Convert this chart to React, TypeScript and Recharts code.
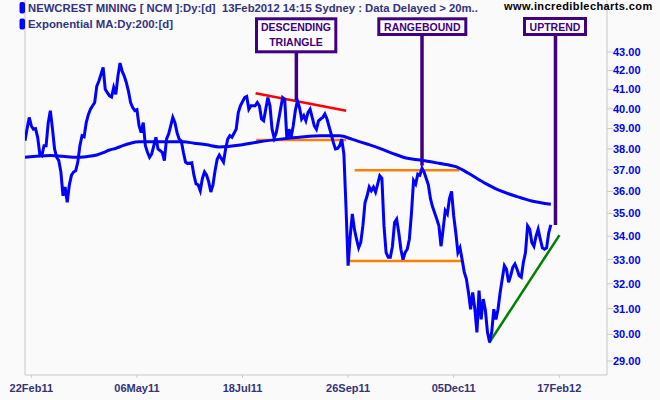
import React from 'react';
import { LineChart, Line, XAxis, YAxis, ReferenceLine } from 'recharts';

// [trading day, close]
const closes: [number, number][] = [
  [0, 38.4], [1, 39.0], [2, 39.56], [3, 39.13], [4, 38.97], [5, 39.0], [6, 38.57], [7, 37.76], [8, 37.68], [9, 38.16],
  [10, 38.16], [11, 39.3], [12, 39.9], [13, 39.0], [14, 38.0], [15, 37.6], [16, 37.44], [17, 36.9], [18, 35.8], [19, 36.2],
  [20, 35.5], [21, 36.3], [22, 36.75], [23, 36.9], [24, 36.96], [25, 37.37], [26, 38.16], [27, 38.65], [28, 38.6], [29, 39.3],
  [30, 39.7], [31, 39.98], [32, 40.15], [33, 40.32], [34, 41.17], [35, 41.44], [36, 41.8], [37, 42.16], [38, 41.0], [39, 40.83],
  [40, 40.66], [41, 40.6], [42, 41.1], [43, 40.74], [44, 41.7], [45, 42.4], [46, 41.96], [47, 41.7], [48, 41.35], [49, 40.9],
  [50, 40.32], [51, 40.06], [52, 39.9], [53, 39.95], [54, 39.15], [55, 38.8], [56, 39.3], [57, 38.16], [58, 37.84], [59, 37.6],
  [60, 37.76], [61, 38.16], [62, 38.57], [63, 38.0], [65, 37.84], [66, 37.44], [67, 38.48], [68, 38.73], [69, 39.13],
  [70, 39.56], [71, 39.3], [72, 38.8], [73, 38.48], [74, 38.4], [75, 37.84], [76, 37.37], [77, 37.3], [79, 37.34],
  [80, 36.75], [81, 36.34], [82, 36.3], [83, 36.03], [84, 36.6], [85, 36.9], [86, 36.75], [87, 36.44], [88, 35.97], [89, 36.3],
  [90, 36.96], [91, 37.5], [92, 37.7], [94, 37.37], [95, 38.0], [96, 38.48], [97, 38.65], [98, 38.57],
  [100, 38.97], [101, 39.8], [102, 40.15], [104, 40.57], [105, 40.63], [106, 39.97], [107, 40.15], [109, 40.15],
  [110, 40.32], [111, 40.15], [112, 39.48], [113, 39.39], [114, 39.97], [115, 40.57], [116, 40.15], [117, 38.97], [118, 38.53], [119, 38.8],
  [121, 39.97], [122, 40.57], [123, 40.48], [124, 38.48], [125, 38.97], [126, 38.57], [127, 39.13], [128, 39.9], [129, 40.4],
  [130, 40.06], [131, 39.48], [132, 39.65], [133, 39.39], [134, 39.8], [135, 39.97], [136, 39.56], [137, 39.13], [138, 38.97], [139, 39.39],
  [140, 39.48], [141, 39.56], [142, 39.73], [143, 39.48], [145, 38.73], [146, 38.32], [147, 38.0], [148, 38.03], [149, 38.16],
  [150, 38.48], [151, 37.76], [152, 35.3], [153, 32.75], [154, 34.0], [155, 34.98], [156, 34.3], [157, 33.87], [158, 33.5], [159, 33.73],
  [160, 34.45], [161, 35.48], [162, 35.8], [163, 36.2], [164, 36.03], [165, 36.2], [166, 35.97], [167, 36.34], [168, 36.72], [169, 36.6],
  [170, 34.45], [171, 33.3], [172, 33.1], [173, 33.1], [174, 33.57], [175, 34.6], [176, 34.75], [177, 34.15], [178, 33.44], [179, 33.0],
  [180, 33.3], [181, 33.44], [182, 33.87], [183, 35.0], [184, 36.5], [185, 36.34], [186, 36.8], [187, 36.75], [188, 37.08], [189, 36.9],
  [190, 36.6], [191, 36.3], [192, 35.67], [193, 35.3], [195, 34.75], [196, 34.45], [197, 33.57], [198, 34.3], [199, 35.13],
  [200, 34.98], [201, 35.67], [202, 36.0], [203, 34.9], [204, 34.15], [205, 33.3], [206, 33.5], [207, 33.0], [208, 32.48], [209, 32.2],
  [210, 31.65], [211, 30.98], [212, 31.65], [213, 31.0], [214, 30.08], [215, 31.72], [216, 30.58], [217, 31.38], [218, 30.95], [219, 30.08],
  [220, 29.7], [221, 30.08], [222, 30.98], [223, 30.58], [224, 30.98], [225, 31.65], [226, 32.2], [227, 32.75], [228, 32.6], [229, 32.06],
  [230, 32.34], [231, 32.68], [232, 32.82], [233, 32.6], [234, 32.34], [235, 32.27], [236, 32.88], [237, 33.3], [238, 34.45], [239, 34.3],
  [240, 33.73], [241, 33.57], [242, 34.0], [243, 34.3], [244, 33.87], [245, 33.5], [246, 33.44], [247, 33.5], [248, 34.15], [249, 34.5],
];

// 200 day exponential MA, [trading day, value]
const ema200: [number, number][] = [
  [0, 37.6], [12, 37.69], [20, 37.63], [24, 37.6], [29, 37.63], [34, 37.71], [37, 37.82], [40, 37.95], [43, 38.03], [46, 38.15],
  [50, 38.28], [54, 38.35], [75, 38.35], [80, 38.28], [86, 38.2], [92, 38.1], [102, 38.19], [111, 38.35], [121, 38.48], [130, 38.57],
  [140, 38.64], [149, 38.64], [155, 38.47], [162, 38.24], [168, 38.03], [174, 37.79], [181, 37.55], [187, 37.47], [196, 37.31],
  [204, 37.15], [210, 36.84], [218, 36.37], [225, 36.03], [233, 35.76], [240, 35.56], [249, 35.41],
];

const dateTicks = [3, 53, 103, 153, 203, 253];
const dateLabels = ['22Feb11', '06May11', '18Jul11', '26Sep11', '05Dec11', '17Feb12'];
const priceTicks = [29, 30, 31, 32, 33, 34, 35, 36, 37, 38, 39, 40, 41, 42, 43];

// drawn trend lines: [day, price] -> [day, price]
const trendLines = [
  { color: '#ff0000', from: [109.2, 40.8], to: [152.1, 39.9] },
  { color: '#ff8000', from: [109.5, 38.44], to: [152.1, 38.44] },
  { color: '#ff8000', from: [156.1, 36.98], to: [205.8, 36.98] },
  { color: '#ff8000', from: [153.7, 32.94], to: [206.6, 32.94] },
  { color: '#008000', from: [219.8, 29.68], to: [253.1, 34.05] },
];

// callout pointers: day, tip price, top price
const pointers = [
  [128.5, 40.42, 43.2],
  [188, 37.2, 44],
  [251.2, 34.49, 44.2],
];

const font = '"Liberation Sans", Arial, sans-serif';
const purple = '#400080';
const grey = '#c8c8c8';

const callouts = [
  { x: 256.5, y: 18.8, w: 79.3, h: 33, lines: ['DESCENDING', 'TRIANGLE'], cx: 296, base: [31, 45.5] },
  { x: 378.8, y: 18.8, w: 87, h: 15.7, lines: ['RANGEBOUND'], cx: 422.3, base: [30.5] },
  { x: 524.5, y: 18.5, w: 61, h: 16, lines: ['UPTREND'], cx: 555, base: [30.5] },
];

export default function App() {
  return (
    <div style={{ position: 'absolute', left: 0, top: 0, width: 660, height: 400, background: '#fafafa' }}>
      <LineChart width={660} height={400} margin={{ top: 0, right: 0, bottom: 0, left: 25 }}>
        <XAxis
          type="number"
          dataKey="d"
          domain={[0, 275.6]}
          allowDataOverflow
          ticks={dateTicks}
          interval={0}
          tickFormatter={(v: number) => dateLabels[dateTicks.indexOf(v)]}
          height={25}
          tickSize={3}
          tickMargin={6}
          axisLine={{ stroke: grey }}
          tickLine={{ stroke: grey }}
          tick={{ fill: '#333377', fontSize: 11, fontWeight: 'bold', fontFamily: font }}
        />
        <YAxis
          orientation="right"
          scale="log"
          domain={[28.487, 45.947]}
          allowDataOverflow
          ticks={priceTicks}
          interval={0}
          tickFormatter={(v: number) => v.toFixed(2)}
          width={53}
          tickSize={6}
          tickMargin={0}
          axisLine={{ stroke: grey }}
          tickLine={{ stroke: grey }}
          tick={{ fill: '#0000ee', fontSize: 11, fontWeight: 'bold', fontFamily: font }}
        />
        <ReferenceLine x={0} stroke={grey} />
        {trendLines.map((t, i) => (
          <ReferenceLine
            key={'t' + i}
            segment={[{ x: t.from[0], y: t.from[1] }, { x: t.to[0], y: t.to[1] }]}
            stroke={t.color}
            strokeWidth={2.5}
            ifOverflow="visible"
          />
        ))}
        {pointers.map((p, i) => (
          <ReferenceLine
            key={'p' + i}
            segment={[{ x: p[0], y: p[1] }, { x: p[0], y: p[2] }]}
            stroke={purple}
            strokeWidth={3.5}
            ifOverflow="visible"
          />
        ))}
        <Line
          data={ema200.map(([d, v]) => ({ d, v }))}
          dataKey="v"
          type="monotone"
          stroke="#0000ff"
          strokeWidth={3}
          dot={false}
          activeDot={false}
          isAnimationActive={false}
        />
        <Line
          data={closes.map(([d, v]) => ({ d, v }))}
          dataKey="v"
          type="linear"
          stroke="#0000ff"
          strokeWidth={3}
          dot={false}
          activeDot={false}
          isAnimationActive={false}
        />
      </LineChart>
      <svg width={660} height={400} style={{ position: 'absolute', left: 0, top: 0, pointerEvents: 'none' }}>
        <g fontFamily={font} fontWeight="bold">
          <rect x={19.5} y={2} width={5.5} height={11.5} rx={2} fill="#0000ff" />
          <text x={28} y={11.7} fontSize={11.3} fill="#333380" style={{ whiteSpace: 'pre' }}>
            NEWCREST MINING [ NCM ]:Dy:[d]  13Feb2012 14:15 Sydney : Data Delayed &gt; 20m..
          </text>
          <rect x={19.5} y={18.5} width={5.5} height={11} rx={2} fill="#0000ff" />
          <text x={28} y={28.3} fontSize={11.4} fill="#333380">
            Exponential MA:Dy:200:[d]
          </text>
          <text x={504} y={10} fontSize={11} fill="#000" letterSpacing={0.4}>
            www.incrediblecharts.com
          </text>
          {callouts.map((c) => (
            <g key={c.lines[0]}>
              <rect x={c.x} y={c.y} width={c.w} height={c.h} fill="#fdfdfd" stroke={purple} strokeWidth={3} />
              {c.lines.map((l, j) => (
                <text key={l} x={c.cx} y={c.base[j]} fontSize={10.5} fill={purple} textAnchor="middle">
                  {l}
                </text>
              ))}
            </g>
          ))}
        </g>
      </svg>
    </div>
  );
}
